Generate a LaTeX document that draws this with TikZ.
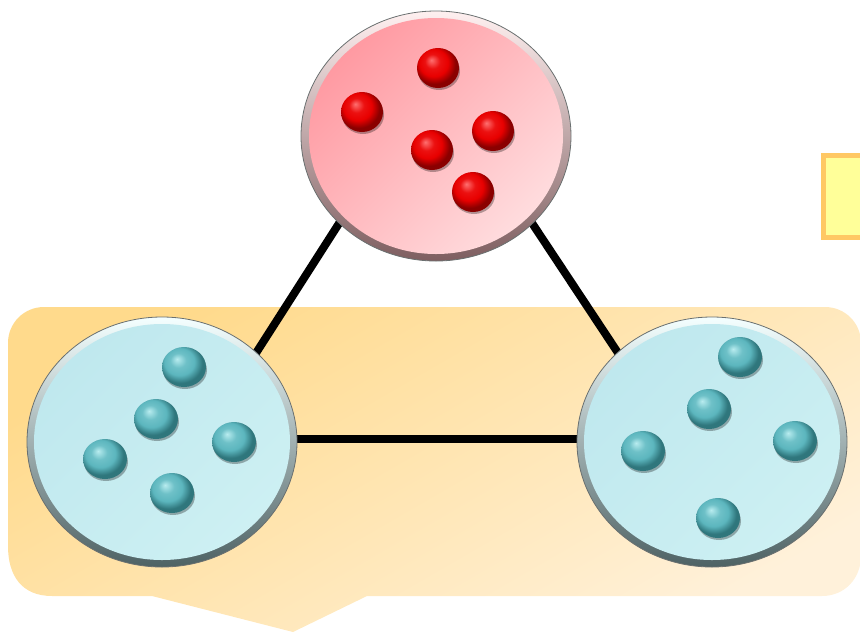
\documentclass[tikz,border=0pt]{standalone}
\usetikzlibrary{shapes.geometric}
\definecolor{calloutA}{HTML}{FFDA8C}
\definecolor{calloutB}{HTML}{FFF1DA}
\definecolor{redfaceA}{HTML}{FF9AA2}
\definecolor{redfaceB}{HTML}{FFDCDE}
\definecolor{bluefaceA}{HTML}{BFE8EE}
\definecolor{bluefaceB}{HTML}{CDF0F3}
\definecolor{redrimA}{HTML}{FFF0F0}
\definecolor{redrimB}{HTML}{7E5E60}
\definecolor{bluerimA}{HTML}{F4FFFF}
\definecolor{bluerimB}{HTML}{4E6264}
\definecolor{rimline}{HTML}{6A7070}
\definecolor{tealhi}{HTML}{B8ECEF}
\definecolor{tealmid}{HTML}{5CB6BE}
\definecolor{tealdark}{HTML}{2F767C}
\definecolor{redhi}{HTML}{FF7070}
\definecolor{redmid}{HTML}{E80000}
\definecolor{reddark}{HTML}{8A0000}
\definecolor{boxfill}{HTML}{FFFF99}
\definecolor{boxline}{HTML}{FFC864}
\pgfdeclareradialshading{tealball}{\pgfqpoint{-8bp}{10bp}}{color(0bp)=(tealhi); color(9bp)=(tealmid!80!tealhi); color(17bp)=(tealmid); color(25bp)=(tealdark); color(50bp)=(tealdark)}
\pgfdeclareradialshading{redball}{\pgfqpoint{-8bp}{10bp}}{color(0bp)=(redhi); color(9bp)=(redmid!85!redhi); color(17bp)=(redmid); color(25bp)=(reddark); color(50bp)=(reddark)}
\tikzset{
  rim/.style={ellipse, inner sep=0pt, outer sep=0pt, draw=rimline, line width=0.8pt,
    minimum width=270pt, minimum height=250pt, shading angle=45},
  redrim/.style={rim, top color=redrimA, bottom color=redrimB},
  bluerim/.style={rim, top color=bluerimA, bottom color=bluerimB},
  redface/.style={top color=redfaceA, bottom color=redfaceB, shading angle=45},
  blueface/.style={top color=bluefaceA, bottom color=bluefaceB, shading angle=45},
  edge/.style={line width=8pt, black},
  ballshadow/.style={black, opacity=0.3},
  callout/.style={top color=calloutA, bottom color=calloutB, shading angle=30},
  sidebox/.style={draw=boxline, fill=boxfill, line width=5pt}
}
\begin{document}
\begin{tikzpicture}[x=1pt,y=-1pt]
\useasboundingbox (0,0) rectangle (860,633);
\clip (0,0) rectangle (860,633);

% callout background
\shade[callout] (367,596) -- (293,632) -- (152,596) -- (52,596)
  .. controls (22,596) and (8,576) .. (8,546) -- (8,343)
  .. controls (8,323) and (24,307) .. (44,307) -- (825,307)
  .. controls (845,307) and (861,323) .. (861,343) -- (861,556)
  .. controls (861,578) and (845,596) .. (822,596) -- cycle;

% side box (cut off at right)
\draw[sidebox] (823,155) rectangle (885,237);

% triangle connectors
\coordinate (pT) at (434,75);
\coordinate (pL) at (201,439);
\coordinate (pR) at (675,439);
\draw[edge] (pT) -- (pL);
\draw[edge] (pT) -- (pR);
\draw[edge] (pL) -- (pR);

% circles
\node[redrim] (top) at (436,136) {};
\shade[redface] (top.center) ellipse [x radius=127, y radius=118];
\node[bluerim] (left) at (162,442) {};
\shade[blueface] (left.center) ellipse [x radius=128, y radius=118];
\node[bluerim] (right) at (712,442) {};
\shade[blueface] (right.center) ellipse [x radius=128, y radius=118];

% red balls
\foreach \p in {(438,68),(362,112),(493,131),(432,150),(473,192)} {
  \fill[ballshadow, shift={(1,3)}] \p ellipse [x radius=21, y radius=19];
  \shade[shading=redball] \p ellipse [x radius=21, y radius=20];
}
% blue balls
\foreach \p in {(184,367),(156,419),(234,442),(105,459),(172,493),
                (740,357),(709,409),(643,451),(795,441),(718,518)} {
  \fill[ballshadow, shift={(1,3)}] \p ellipse [x radius=22, y radius=19];
  \shade[shading=tealball] \p ellipse [x radius=22, y radius=20];
}
\end{tikzpicture}
\end{document}
